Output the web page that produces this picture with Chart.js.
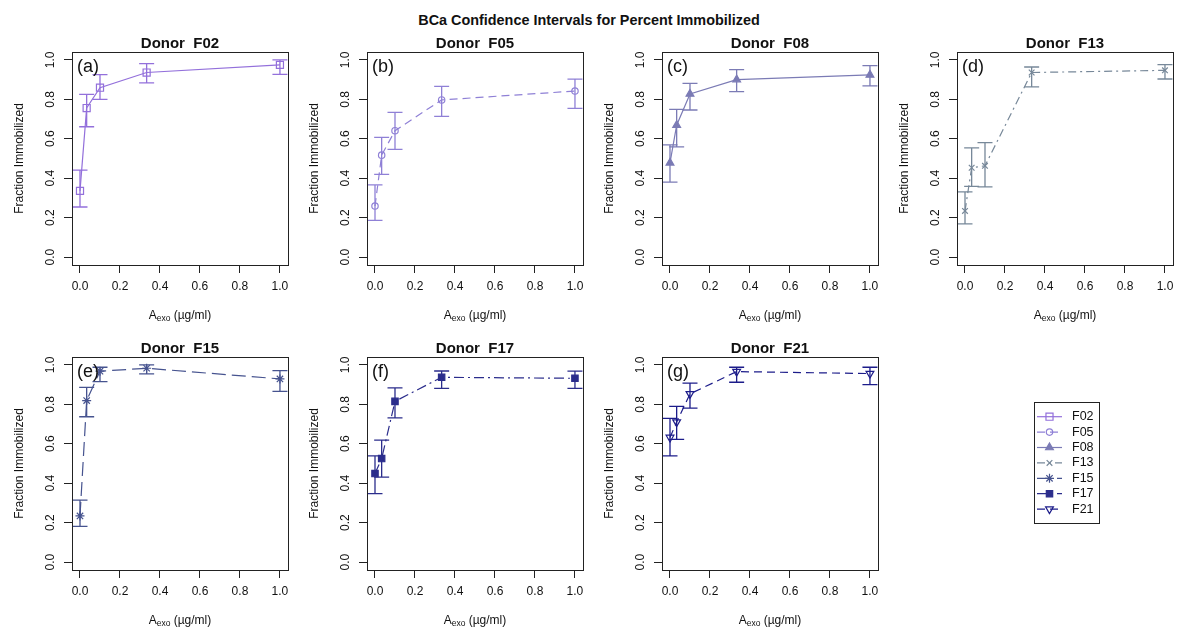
<!DOCTYPE html>
<html>
<head>
<meta charset="utf-8">
<script src="https://cdn.jsdelivr.net/npm/chart.js@4.4.0/dist/chart.umd.min.js"></script>
<style>
  body { margin: 0; width: 1178px; height: 628px; overflow: hidden; background: #fff; position: relative;
         font-family: "Liberation Sans", Arial, sans-serif; }
  #mainTitle { position: absolute; top: 11px; left: 0; width: 1178px; text-align: center;
               font-weight: bold; font-size: 14.4px; line-height: 18px; color: #111; }
  canvas { position: absolute; }
</style>
</head>
<body>
<div id="mainTitle">BCa Confidence Intervals for Percent Immobilized</div>
<canvas id="p0" width="295" height="305" style="left:0px;top:22px"></canvas>
<canvas id="p1" width="295" height="305" style="left:295px;top:22px"></canvas>
<canvas id="p2" width="295" height="305" style="left:590px;top:22px"></canvas>
<canvas id="p3" width="295" height="305" style="left:885px;top:22px"></canvas>
<canvas id="p4" width="295" height="305" style="left:0px;top:327px"></canvas>
<canvas id="p5" width="295" height="305" style="left:295px;top:327px"></canvas>
<canvas id="p6" width="295" height="305" style="left:590px;top:327px"></canvas>
<canvas id="legendCanvas" width="110" height="140" style="left:1020px;top:395px"></canvas>

<script>
    var FONT = '"Liberation Sans", Arial, sans-serif';

    // x values (A_exo, ug/ml) and ticks
    var doses = [0, 0.0333, 0.1, 0.3333, 1.0];
    var xTickVals = [0, 0.2, 0.4, 0.6, 0.8, 1.0];
    var yTickVals = [0, 0.2, 0.4, 0.6, 0.8, 1.0];

    var donors = ['F02', 'F05', 'F08', 'F13', 'F15', 'F17', 'F21'];
    var panelTags = ['(a)', '(b)', '(c)', '(d)', '(e)', '(f)', '(g)'];

    // fraction immobilized + BCa interval for each donor
    var fracF02 = [0.336, 0.756, 0.859, 0.936, 0.975];
    var lowF02  = [0.254, 0.661, 0.800, 0.883, 0.927];
    var highF02 = [0.441, 0.825, 0.925, 0.981, 1.000];

    var fracF05 = [0.259, 0.517, 0.641, 0.797, 0.842];
    var lowF05  = [0.186, 0.420, 0.546, 0.714, 0.754];
    var highF05 = [0.366, 0.607, 0.734, 0.866, 0.902];

    var fracF08 = [0.478, 0.669, 0.827, 0.900, 0.924];
    var lowF08  = [0.380, 0.559, 0.746, 0.839, 0.868];
    var highF08 = [0.569, 0.749, 0.881, 0.951, 0.971];

    var fracF13 = [0.234, 0.453, 0.463, 0.936, 0.947];
    var lowF13  = [0.169, 0.359, 0.356, 0.863, 0.903];
    var highF13 = [0.331, 0.554, 0.580, 0.964, 0.976];

    var fracF15 = [0.234, 0.819, 0.968, 0.983, 0.929];
    var lowF15  = [0.181, 0.737, 0.915, 0.954, 0.866];
    var highF15 = [0.314, 0.886, 0.988, 1.000, 0.971];

    var fracF17 = [0.449, 0.525, 0.815, 0.937, 0.932];
    var lowF17  = [0.347, 0.431, 0.731, 0.881, 0.881];
    var highF17 = [0.539, 0.619, 0.883, 0.969, 0.968];

    var fracF21 = [0.632, 0.710, 0.853, 0.966, 0.956];
    var lowF21  = [0.539, 0.622, 0.781, 0.912, 0.900];
    var highF21 = [0.729, 0.790, 0.908, 0.988, 0.988];

    var fracs = [fracF02, fracF05, fracF08, fracF13, fracF15, fracF17, fracF21];
    var lows  = [lowF02, lowF05, lowF08, lowF13, lowF15, lowF17, lowF21];
    var highs = [highF02, highF05, highF08, highF13, highF15, highF17, highF21];

    // styles per donor (R-like colours, line types and symbols)
    var colors   = ['#9370DB', '#8F80D6', '#7B7BB5', '#778899', '#46538F', '#2B2D8C', '#1C1C8A'];
    var dashes   = [[], [8, 5], [], [8, 4, 2, 4], [14, 6], [10, 4, 2, 4], [8, 5]];
    var pStyles  = ['rect', 'circle', 'triangle', 'crossRot', 'star', 'rect', 'triangle'];
    var pRadius  = [5, 3.2, 4.5, 4, 4.5, 4.5, 4.5];
    var pRotate  = [0, 0, 0, 0, 0, 0, 180];
    var pFilled  = [false, false, true, false, false, true, false];

    function styleFor(i) {
        return {
            label: donors[i],
            borderColor: colors[i],
            backgroundColor: pFilled[i] ? colors[i] : 'rgba(255,255,255,0)',
            borderWidth: 1.2,
            borderDash: dashes[i],
            tension: 0,
            pointStyle: pStyles[i],
            pointRadius: pRadius[i],
            pointRotation: pRotate[i],
            pointBorderWidth: 1.2,
            pointBorderColor: colors[i],
            pointBackgroundColor: pFilled[i] ? colors[i] : 'rgba(255,255,255,0)'
        };
    }

    // error bars, box, panel title, tag and x title
    var panelDeco = {
        id: 'panelDeco',
        afterDatasetsDraw: function(chart, args, opts) {
            var ctx = chart.ctx, xs = chart.scales.x, ys = chart.scales.y;
            ctx.save();
            ctx.strokeStyle = opts.color;
            ctx.lineWidth = 1.3;
            ctx.setLineDash([]);
            opts.low.forEach(function(lo, i) {
                var px = xs.getPixelForValue(doses[i]);
                var y1 = ys.getPixelForValue(lo), y2 = ys.getPixelForValue(opts.high[i]);
                ctx.beginPath();
                ctx.moveTo(px, y1); ctx.lineTo(px, y2);
                ctx.moveTo(px - 7.5, y1); ctx.lineTo(px + 7.5, y1);
                ctx.moveTo(px - 7.5, y2); ctx.lineTo(px + 7.5, y2);
                ctx.stroke();
            });
            ctx.restore();
        },
        afterDraw: function(chart, args, opts) {
            var ctx = chart.ctx, a = chart.chartArea;
            var cx = (a.left + a.right) / 2;
            ctx.save();
            ctx.strokeStyle = '#222';
            ctx.lineWidth = 1;
            ctx.strokeRect(Math.round(a.left) + 0.5, Math.round(a.top) + 0.5,
                           Math.round(a.right - a.left), Math.round(a.bottom - a.top));

            ctx.fillStyle = '#111';
            ctx.textAlign = 'center';
            ctx.textBaseline = 'middle';
            ctx.font = 'bold 15px ' + FONT;
            ctx.fillText(opts.title, cx, a.top - 8);

            ctx.textAlign = 'left';
            ctx.font = '18px ' + FONT;
            ctx.fillText(opts.tag, a.left + 5, a.top + 15);

            // A_exo (ug/ml) with subscript
            var yT = a.bottom + 50.5;
            var big = '12px ' + FONT, small = '8.5px ' + FONT;
            ctx.font = big;  var wA = ctx.measureText('A').width;
            ctx.font = small; var wS = ctx.measureText('exo').width;
            ctx.font = big;  var wR = ctx.measureText(' (\u00b5g/ml)').width;
            var x0 = cx - (wA + wS + wR) / 2;
            ctx.fillText('A', x0, yT);
            ctx.font = small;
            ctx.fillText('exo', x0 + wA, yT + 3);
            ctx.font = big;
            ctx.fillText(' (\u00b5g/ml)', x0 + wA + wS, yT);
            ctx.restore();
        }
    };

    function makePanel(i) {
        var ds = styleFor(i);
        ds.data = doses.map(function(d, k) { return { x: d, y: fracs[i][k] }; });
        new Chart(document.getElementById('p' + i).getContext('2d'), {
            type: 'line',
            data: { datasets: [ds] },
            options: {
                responsive: false,
                animation: false,
                devicePixelRatio: 1,
                layout: { padding: { top: 30, right: 3.5, left: 0, bottom: 0 } },
                plugins: {
                    legend: { display: false },
                    tooltip: { enabled: false },
                    panelDeco: { low: lows[i], high: highs[i], color: colors[i],
                                 title: 'Donor  ' + donors[i], tag: panelTags[i] }
                },
                scales: {
                    x: {
                        type: 'linear', min: -0.04, max: 1.04,
                        afterBuildTicks: function(s) { s.ticks = xTickVals.map(function(v) { return { value: v }; }); },
                        afterFit: function(s) { s.height = 62; },
                        grid: { drawOnChartArea: false, drawTicks: true, tickLength: 8, color: '#222' },
                        border: { display: false },
                        ticks: { minRotation: 0, maxRotation: 0, padding: 6.5, color: '#111',
                                 font: { size: 12, family: FONT },
                                 callback: function(v) { return v.toFixed(1); } }
                    },
                    y: {
                        type: 'linear', min: -0.04, max: 1.04,
                        afterBuildTicks: function(s) { s.ticks = yTickVals.map(function(v) { return { value: v }; }); },
                        afterFit: function(s) { s.width = 72; },
                        grid: { drawOnChartArea: false, drawTicks: true, tickLength: 8, color: '#222' },
                        border: { display: false },
                        ticks: { minRotation: 90, maxRotation: 90, crossAlign: 'center', padding: 5, color: '#111',
                                 font: { size: 12, family: FONT },
                                 callback: function(v) { return v.toFixed(1); } },
                        title: { display: true, text: 'Fraction Immobilized', color: '#111',
                                 font: { size: 12, family: FONT }, padding: { top: 12, bottom: 0 } }
                    }
                }
            },
            plugins: [panelDeco]
        });
    }

    for (var i = 0; i < donors.length; i++) makePanel(i);

    // legend: line sample + symbol for each donor
    var legendBox = {
        id: 'legendBox',
        afterDraw: function(chart) {
            var ctx = chart.ctx;
            ctx.save();
            ctx.strokeStyle = '#222';
            ctx.lineWidth = 1;
            ctx.strokeRect(14.5, 7.5, 65, 121);
            chart.data.datasets.forEach(function(ds, k) {
                var y = 21.7 + 15.4 * k;
                ctx.strokeStyle = ds.borderColor;
                ctx.lineWidth = 1.2;
                ctx.setLineDash(ds.borderDash);
                ctx.beginPath();
                ctx.moveTo(17, y); ctx.lineTo(42, y);
                ctx.stroke();
                ctx.setLineDash([]);
                ctx.fillStyle = ds.pointBackgroundColor;
                Chart.helpers.drawPoint(ctx, {
                    pointStyle: ds.pointStyle, radius: ds.pointRadius,
                    rotation: ds.pointRotation, borderWidth: 1.2
                }, 29.5, y);
                ctx.fillStyle = '#111';
                ctx.font = '12.5px ' + FONT;
                ctx.textAlign = 'left';
                ctx.textBaseline = 'middle';
                ctx.fillText(ds.label, 52, y);
            });
            ctx.restore();
        }
    };

    new Chart(document.getElementById('legendCanvas').getContext('2d'), {
        type: 'line',
        data: { datasets: donors.map(function(d, k) { var s = styleFor(k); s.data = []; return s; }) },
        options: {
            responsive: false,
            animation: false,
            devicePixelRatio: 1,
            plugins: { legend: { display: false }, tooltip: { enabled: false } },
            scales: { x: { display: false }, y: { display: false } }
        },
        plugins: [legendBox]
    });
</script>
</body>
</html>
